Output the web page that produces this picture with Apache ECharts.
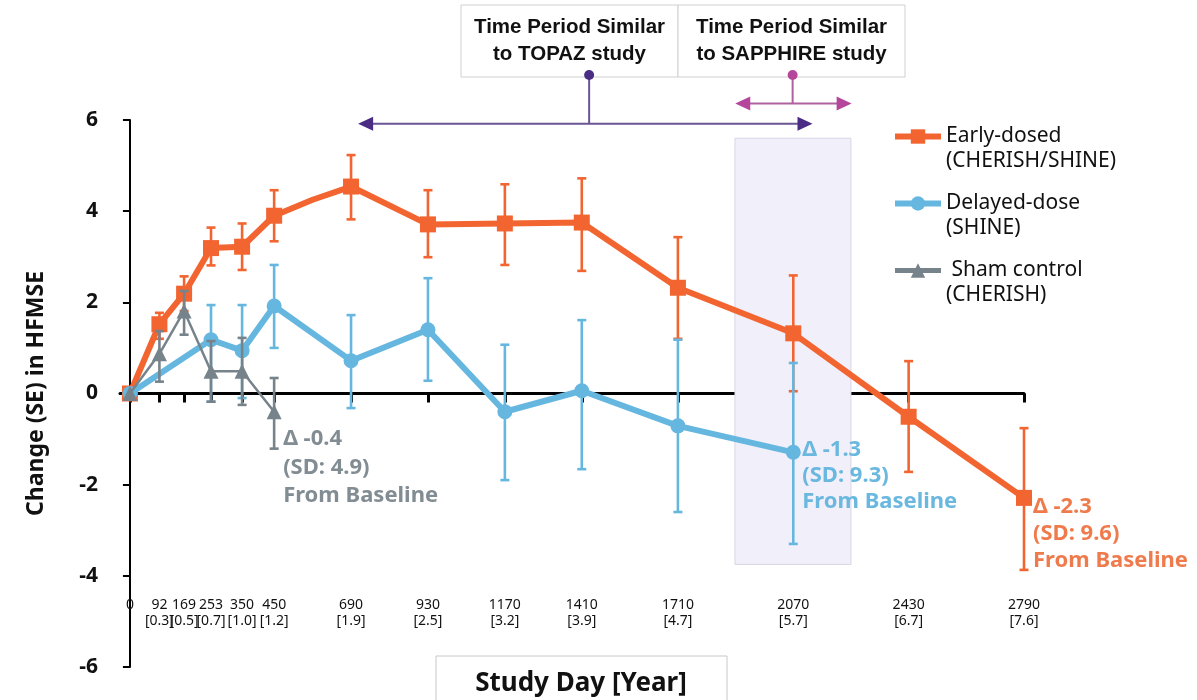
<!DOCTYPE html>
<html>
<head>
<meta charset="utf-8">
<script src="https://cdn.jsdelivr.net/npm/echarts@6/dist/echarts.min.js"></script>
<style>
html,body{margin:0;padding:0;background:#fff;}
#chart{width:1197px;height:700px;}
</style>
</head>
<body>
<div id="chart"></div>
<script>
// ---------------- data ----------------
const tickDays  = [0, 92, 169, 253, 350, 450, 690, 930, 1170, 1410, 1710, 2070, 2430, 2790];
const tickYears = ['', '[0.3]', '[0.5]', '[0.7]', '[1.0]', '[1.2]', '[1.9]', '[2.5]', '[3.2]', '[3.9]', '[4.7]', '[5.7]', '[6.7]', '[7.6]'];

const earlyDays = [0, 92, 169, 253, 350, 450, 570, 690, 930, 1170, 1410, 1710, 2070, 2430, 2790];
const earlyMean = [0, 1.52, 2.19, 3.19, 3.22, 3.90, 4.25, 4.54, 3.71, 3.73, 3.75, 2.32, 1.32, -0.51, -2.29];
const earlyHigh = [null, 1.77, 2.57, 3.64, 3.73, 4.46, null, 5.23, 4.46, 4.59, 4.72, 3.43, 2.59, 0.71, -0.76];
const earlyLow  = [null, 1.20, 1.81, 2.81, 2.71, 3.34, null, 3.82, 2.99, 2.82, 2.69, 1.20, 0.05, -1.72, -3.87];

const delayedDays = [0, 253, 350, 450, 690, 930, 1170, 1410, 1710, 2070];
const delayedMean = [0, 1.18, 0.94, 1.92, 0.72, 1.40, -0.40, 0.06, -0.71, -1.29];
const delayedHigh = [null, 1.94, 1.94, 2.82, 1.72, 2.53, 1.07, 1.61, 1.18, 0.67];
const delayedLow  = [null, -0.18, -0.10, 1.00, -0.32, 0.28, -1.90, -1.66, -2.60, -3.30];

const shamDays = [0, 92, 169, 253, 350, 450];
const shamMean = [0, 0.87, 1.81, 0.49, 0.49, -0.40];
const shamHigh = [null, 1.37, 2.25, 1.15, 1.22, 0.34];
const shamLow  = [null, 0.26, 1.29, -0.18, -0.25, -1.21];

const seriesNames = ['Early-dosed\n(CHERISH/SHINE)', 'Delayed-dose\n(SHINE)', ' Sham control\n(CHERISH)'];
const deltaTexts = [
  'Δ -2.3\n(SD: 9.6)\nFrom Baseline',
  'Δ -1.3\n(SD: 9.3)\nFrom Baseline',
  'Δ -0.4\n(SD: 4.9)\nFrom Baseline'
];
const periodTitles = ['Time Period Similar\nto TOPAZ study', 'Time Period Similar\nto SAPPHIRE study'];
// annotation ranges (study days / change units)
const sapphireShade = { x0: 1888, x1: 2250, y0: 5.6, y1: -3.75 };
const topazArrow = { x0: 712, x1: 2130, y: 5.92, xc: 1433 };
const sapphireArrow = { x0: 1889, x1: 2252, y: 6.36, xc: 2068 };

// ---------------- styles ----------------
const ORANGE = '#f26531', BLUE = '#66b7e0', GRAY = '#77838b';
const ORANGE_T = '#ef7b4d', BLUE_T = '#6ab8df', GRAY_T = '#828c93';
const FONT = '"Noto Sans", "DejaVu Sans", sans-serif';

function pts(days, mean) { return days.map((d, i) => [d, mean[i]]); }
function errs(days, lo, hi) {
  const out = [];
  days.forEach((d, i) => { if (lo[i] !== null && hi[i] !== null) out.push([d, lo[i], hi[i]]); });
  return out;
}
function errRender(color) {
  return function (params, api) {
    const x = api.value(0), lo = api.value(1), hi = api.value(2);
    const a = api.coord([x, lo]), b = api.coord([x, hi]);
    const hw = 4.5, st = { stroke: color, lineWidth: 2.6 };
    return { type: 'group', children: [
      { type: 'line', shape: { x1: a[0], y1: a[1], x2: b[0], y2: b[1] }, style: st },
      { type: 'line', shape: { x1: a[0] - hw, y1: a[1], x2: a[0] + hw, y2: a[1] }, style: st },
      { type: 'line', shape: { x1: b[0] - hw, y1: b[1], x2: b[0] + hw, y2: b[1] }, style: st }
    ]};
  };
}

const earlyData = pts(earlyDays, earlyMean).map((p, i) =>
  earlyDays[i] === 570 ? { value: p, symbol: 'none' } : p);

const chart = echarts.init(document.getElementById('chart'));
const XMIN = -31, XMAX = 2790;

const option = {
  animation: false,
  backgroundColor: '#fff',
  grid: { left: 120, right: 173, top: 120, bottom: 33 },
  xAxis: [
    {
      type: 'value', min: XMIN, max: XMAX,
      axisLine: { onZero: true, lineStyle: { color: '#000', width: 3 } },
      axisTick: { show: true, customValues: tickDays, length: 9, lineStyle: { color: '#000', width: 3 } },
      axisLabel: { show: false },
      splitLine: { show: false }
    },
    {
      type: 'value', min: XMIN, max: XMAX, position: 'bottom', offset: -70,
      axisLine: { show: false }, axisTick: { show: false }, splitLine: { show: false },
      axisLabel: {
        customValues: tickDays, margin: 0,
        fontFamily: FONT, fontSize: 14, color: '#111', lineHeight: 16,
        formatter: function (v) {
          const i = tickDays.indexOf(v);
          return i < 0 ? '' : tickDays[i] + '\n' + tickYears[i];
        }
      }
    }
  ],
  yAxis: {
    type: 'value', min: -6, max: 6, interval: 2,
    axisLine: { show: true, lineStyle: { color: '#000', width: 2 } },
    axisTick: { show: true, length: 7, lineStyle: { color: '#000', width: 2 } },
    axisLabel: { fontFamily: FONT, fontSize: 21, fontWeight: 'bold', color: '#111', margin: 22 },
    splitLine: { show: false },
    name: 'Change (SE) in HFMSE', nameLocation: 'middle', nameGap: 72, nameRotate: 90,
    nameTextStyle: { fontFamily: FONT, fontSize: 23, fontWeight: 'bold', color: '#111' }
  },
  legend: {
    orient: 'vertical', left: 887, top: 94,
    itemWidth: 46, itemHeight: 18, itemGap: -8,
    formatter: function (name) { return ' \n' + name; },
    textStyle: { fontFamily: FONT, fontSize: 21, color: '#111', lineHeight: 25 },
    data: [
      { name: seriesNames[0], lineStyle: { width: 6 } },
      { name: seriesNames[1], lineStyle: { width: 6 } },
      { name: seriesNames[2], lineStyle: { width: 5 } }
    ]
  },
  series: [
    {
      type: 'line', data: [], silent: true, z: 0,
      markArea: {
        silent: true,
        itemStyle: { color: '#f1eff9', borderColor: '#d9d5e6', borderWidth: 1 },
        data: [[{ coord: [sapphireShade.x0, sapphireShade.y0] }, { coord: [sapphireShade.x1, sapphireShade.y1] }]]
      }
    },
    {
      name: seriesNames[0], type: 'line', data: earlyData, z: 3,
      symbol: 'rect', symbolSize: 16, lineStyle: { color: ORANGE, width: 6 },
      itemStyle: { color: ORANGE }, clip: false
    },
    {
      type: 'custom', z: 3, renderItem: errRender(ORANGE), data: errs(earlyDays, earlyLow, earlyHigh),
      encode: { x: 0, y: [1, 2] }, silent: true, clip: false
    },
    {
      name: seriesNames[1], type: 'line', data: pts(delayedDays, delayedMean), z: 4,
      symbol: 'circle', symbolSize: 15, lineStyle: { color: BLUE, width: 6 },
      itemStyle: { color: BLUE }, clip: false
    },
    {
      type: 'custom', z: 4, renderItem: errRender(BLUE), data: errs(delayedDays, delayedLow, delayedHigh),
      encode: { x: 0, y: [1, 2] }, silent: true, clip: false
    },
    {
      name: seriesNames[2], type: 'line', data: pts(shamDays, shamMean), z: 5,
      symbol: 'triangle', symbolSize: 15, lineStyle: { color: GRAY, width: 2.5 },
      itemStyle: { color: GRAY }, clip: false
    },
    {
      type: 'custom', z: 5, renderItem: errRender(GRAY), data: errs(shamDays, shamLow, shamHigh),
      encode: { x: 0, y: [1, 2] }, silent: true, clip: false
    }
  ]
};
chart.setOption(option);

// ---------------- annotations from scales ----------------
function px(x, y) { return chart.convertToPixel({ xAxisIndex: 0, yAxisIndex: 0 }, [x, y]); }
const g = [];
// delta labels next to last points
const lastPts = [
  [earlyDays[earlyDays.length - 1], earlyMean[earlyMean.length - 1], ORANGE_T, -5, 27],
  [delayedDays[delayedDays.length - 1], delayedMean[delayedMean.length - 1], BLUE_T, -16, 26],
  [shamDays[shamDays.length - 1], shamMean[shamMean.length - 1], GRAY_T, 13, 28.5]
];
lastPts.forEach((p, i) => {
  const q = px(p[0], p[1]);
  g.push({ type: 'text', x: q[0] + 9, y: q[1] + p[3], z: 10,
    style: { text: deltaTexts[i], fill: p[2], font: 'bold 22px ' + FONT, lineHeight: p[4] } });
});
// TOPAZ arrow
const ta0 = px(topazArrow.x0, topazArrow.y), ta1 = px(topazArrow.x1, topazArrow.y), tac = px(topazArrow.xc, topazArrow.y);
const PURPLE = '#4b2c85', PURPLE_L = '#6a5595';
g.push({ type: 'line', shape: { x1: ta0[0] + 12, y1: ta0[1], x2: ta1[0] - 12, y2: ta1[1] }, style: { stroke: PURPLE_L, lineWidth: 2 }, z: 10 });
g.push({ type: 'polygon', shape: { points: [[ta0[0], ta0[1]], [ta0[0] + 15, ta0[1] - 7], [ta0[0] + 15, ta0[1] + 7]] }, style: { fill: PURPLE }, z: 10 });
g.push({ type: 'polygon', shape: { points: [[ta1[0], ta1[1]], [ta1[0] - 15, ta1[1] - 7], [ta1[0] - 15, ta1[1] + 7]] }, style: { fill: PURPLE }, z: 10 });
g.push({ type: 'line', shape: { x1: tac[0], y1: tac[1], x2: tac[0], y2: 75 }, style: { stroke: PURPLE_L, lineWidth: 2 }, z: 10 });
g.push({ type: 'circle', shape: { cx: tac[0], cy: 75, r: 5 }, style: { fill: PURPLE }, z: 12 });
// SAPPHIRE arrow
const MAG = '#b4479b', MAG_L = '#b0629f';
const sa0 = px(sapphireArrow.x0, sapphireArrow.y), sa1 = px(sapphireArrow.x1, sapphireArrow.y), sac = px(sapphireArrow.xc, sapphireArrow.y);
g.push({ type: 'line', shape: { x1: sa0[0] + 12, y1: sa0[1], x2: sa1[0] - 12, y2: sa1[1] }, style: { stroke: MAG_L, lineWidth: 2 }, z: 10 });
g.push({ type: 'polygon', shape: { points: [[sa0[0], sa0[1]], [sa0[0] + 15, sa0[1] - 7], [sa0[0] + 15, sa0[1] + 7]] }, style: { fill: MAG }, z: 10 });
g.push({ type: 'polygon', shape: { points: [[sa1[0], sa1[1]], [sa1[0] - 15, sa1[1] - 7], [sa1[0] - 15, sa1[1] + 7]] }, style: { fill: MAG }, z: 10 });
g.push({ type: 'line', shape: { x1: sac[0], y1: sac[1], x2: sac[0], y2: 75 }, style: { stroke: MAG_L, lineWidth: 2 }, z: 10 });
g.push({ type: 'circle', shape: { cx: sac[0], cy: 75, r: 5 }, style: { fill: MAG }, z: 12 });
// title boxes
const boxes = [[461, 678], [678, 905]];
boxes.forEach((b, i) => {
  g.push({ type: 'rect', shape: { x: b[0], y: 5, width: b[1] - b[0], height: 72 }, style: { fill: '#fff', stroke: '#d0d0d0', lineWidth: 1 }, z: 9 });
  g.push({ type: 'text', x: (b[0] + b[1]) / 2, y: 41, z: 11,
    style: { text: periodTitles[i], fill: '#111', font: 'bold 20.5px "Liberation Sans", Arial, sans-serif', lineHeight: 27, align: 'center', verticalAlign: 'middle' } });
});
// x axis name box
g.push({ type: 'rect', shape: { x: 436, y: 656, width: 291, height: 60 }, style: { fill: '#fff', stroke: '#c8c8c8', lineWidth: 1 }, z: 9 });
g.push({ type: 'text', x: 581, y: 684, z: 11,
  style: { text: 'Study Day [Year]', fill: '#111', font: 'bold 26px ' + FONT, align: 'center', verticalAlign: 'middle' } });

chart.setOption({ graphic: g });
</script>
</body>
</html>
